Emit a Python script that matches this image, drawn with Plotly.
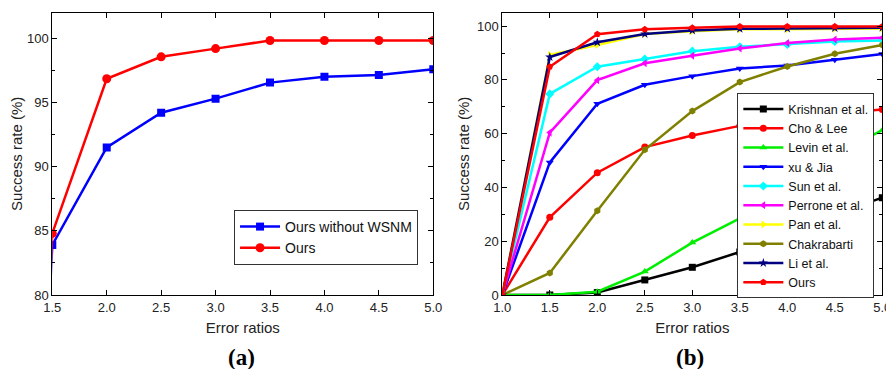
import plotly.graph_objects as go

# ---- data panel (a) ----
xa = [1.0, 1.5, 2.0, 2.5, 3.0, 3.5, 4.0, 4.5, 5.0]
a_wo_wsnm = [0, 83.9, 91.5, 94.2, 95.3, 96.55, 97.0, 97.15, 97.6]
a_ours = [0, 84.8, 96.85, 98.56, 99.2, 99.83, 99.83, 99.83, 99.83]

# ---- data panel (b) ----
xb = [1.0, 1.5, 2.0, 2.5, 3.0, 3.5, 4.0, 4.5, 5.0]
b_names = ["Krishnan et al.", "Cho & Lee", "Levin et al.", "xu & Jia", "Sun et al.",
           "Perrone et al.", "Pan et al.", "Chakrabarti", "Li et al.", "Ours"]
b_krishnan = [0, 0, 0.9, 5.6, 10.3, 16.0, 23.0, 30.0, 36.2]
b_cho = [0, 28.9, 45.5, 55.0, 59.3, 62.9, 65.5, 67.5, 69.0]
b_levin = [0, 0, 1.2, 8.7, 19.5, 28.5, 40.0, 52.0, 61.3]
b_xu = [0, 49.3, 71.1, 78.2, 81.4, 84.2, 85.4, 87.5, 89.6]
b_sun = [0, 74.8, 84.9, 87.8, 90.7, 92.3, 93.2, 94.3, 94.7]
b_perrone = [0, 60.4, 79.9, 86.2, 89.0, 91.7, 93.7, 95.0, 95.7]
b_pan = [0, 89.3, 93.0, 97.1, 98.1, 98.8, 98.8, 99.0, 99.1]
b_chak = [0, 8.2, 31.3, 54.0, 68.4, 79.2, 85.0, 89.7, 93.0]
b_li = [0, 88.5, 94.0, 97.1, 98.4, 99.0, 99.1, 99.3, 99.4]
b_ours = [0, 84.9, 97.0, 98.8, 99.4, 99.9, 99.9, 99.9, 99.9]

b_series = [b_krishnan, b_cho, b_levin, b_xu, b_sun, b_perrone, b_pan, b_chak, b_li, b_ours]
b_colors = ["#000000", "#ff0000", "#00ee00", "#0000ff", "#00ffff",
            "#ff00ff", "#ffff00", "#808000", "#000080", "#ff0000"]
b_symbols = ["square", "circle", "triangle-up", "triangle-down", "diamond",
             "triangle-left", "triangle-right", "hexagon", "star", "pentagon"]

fig = go.Figure()

fig.add_trace(go.Scatter(x=xa, y=a_wo_wsnm, name="Ours without WSNM", mode="lines+markers",
                         line=dict(color="#0000ff", width=2.5),
                         marker=dict(symbol="square", size=8, color="#0000ff"),
                         xaxis="x", yaxis="y", legend="legend"))
fig.add_trace(go.Scatter(x=xa, y=a_ours, name="Ours", mode="lines+markers",
                         line=dict(color="#ff0000", width=2.5),
                         marker=dict(symbol="circle", size=9, color="#ff0000"),
                         xaxis="x", yaxis="y", legend="legend"))

for name, vals, col, sym in zip(b_names, b_series, b_colors, b_symbols):
    fig.add_trace(go.Scatter(x=xb, y=vals, name=name, mode="lines+markers",
                             line=dict(color=col, width=2.5),
                             marker=dict(symbol=sym, size=7, color=col),
                             xaxis="x2", yaxis="y2", legend="legend2"))

tickfont = dict(family="Liberation Sans, Arial", size=13, color="#222")
titlefont = dict(family="Liberation Sans, Arial", size=15, color="#222")
ax_common = dict(showgrid=False, zeroline=False, showline=True, linecolor="black", linewidth=1,
                 mirror="ticks", ticks="inside", ticklen=5, tickcolor="black", tickfont=tickfont,
                 automargin=False)

fig.update_layout(
    width=886, height=361,
    margin=dict(l=0, r=0, t=0, b=0),
    paper_bgcolor="white", plot_bgcolor="white",
    xaxis=dict(domain=[0.0500, 0.4800], range=[1.5, 5.0], dtick=0.5, tickformat=".1f",
               title=dict(text="Error ratios", font=titlefont, standoff=8), anchor="y", **ax_common),
    yaxis=dict(domain=[0.2050, 0.9870], range=[80, 102], dtick=5,
               minor=dict(ticks="inside", ticklen=3, dtick=2.5, tickcolor="black"),
               title=dict(text="Success rate (%)", font=titlefont, standoff=3), anchor="x", **ax_common),
    xaxis2=dict(domain=[0.5579, 0.9868], range=[1.0, 5.0], dtick=0.5, tickformat=".1f",
                title=dict(text="Error ratios", font=titlefont, standoff=8), anchor="y2", **ax_common),
    yaxis2=dict(domain=[0.2050, 0.9870], range=[0, 105], dtick=20,
                minor=dict(ticks="inside", ticklen=3, dtick=10, tickcolor="black"),
                title=dict(text="Success rate (%)", font=titlefont, standoff=3), anchor="x2", **ax_common),
    legend=dict(x=0.4628, y=0.2881, xanchor="right", yanchor="bottom",
                bgcolor="white", bordercolor="#333", borderwidth=1, itemwidth=40,
                font=dict(family="Liberation Sans, Arial", size=14, color="#111"),
                tracegroupgap=0),
    legend2=dict(x=0.9778, y=0.7637, xanchor="right", yanchor="top",
                 bgcolor="white", bordercolor="#333", borderwidth=1, itemwidth=40,
                 font=dict(family="Liberation Sans, Arial", size=12.5, color="#111"),
                 tracegroupgap=0),
    annotations=[
        dict(text="<b>(a)</b>", x=0.263, y=0.0332, xref="paper", yref="paper",
             xanchor="center", yanchor="middle", showarrow=False,
             font=dict(family="Liberation Serif", size=23, color="black")),
        dict(text="<b>(b)</b>", x=0.7698, y=0.0332, xref="paper", yref="paper",
             xanchor="center", yanchor="middle", showarrow=False,
             font=dict(family="Liberation Serif", size=23, color="black")),
    ],
)

fig.write_html("out.html")
